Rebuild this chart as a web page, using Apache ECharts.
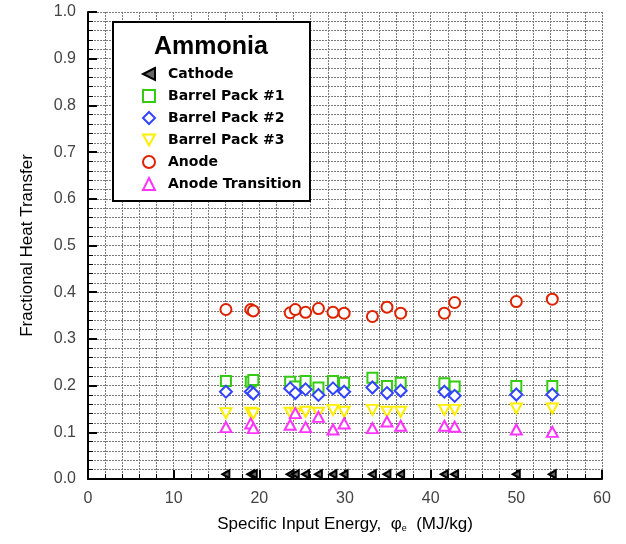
<!DOCTYPE html>
<html>
<head>
<meta charset="utf-8">
<script src="https://cdn.jsdelivr.net/npm/echarts@6/dist/echarts.min.js"></script>
<style>html,body{margin:0;padding:0;background:#fff}#c{width:626px;height:544px}</style>
</head>
<body>
<div id="c"></div>
<script>
var energy = [16.1, 19.0, 19.3, 23.6, 24.2, 25.4, 26.9, 28.6, 29.9, 33.2, 34.9, 36.5, 41.6, 42.8, 50.0, 54.2];
var cathode = [0.01, 0.01, 0.01, 0.01, 0.01, 0.01, 0.01, 0.01, 0.01, 0.01, 0.01, 0.01, 0.01, 0.01, 0.01, 0.01];
var barrel1 = [0.210, 0.208, 0.212, 0.208, 0.198, 0.210, 0.196, 0.210, 0.206, 0.217, 0.199, 0.206, 0.205, 0.198, 0.199, 0.199];
var barrel2 = [0.187, 0.187, 0.183, 0.194, 0.184, 0.192, 0.180, 0.194, 0.187, 0.196, 0.184, 0.189, 0.187, 0.178, 0.181, 0.181];
var barrel3 = [0.141, 0.142, 0.140, 0.142, 0.140, 0.144, 0.142, 0.148, 0.144, 0.148, 0.144, 0.144, 0.148, 0.148, 0.151, 0.151];
var anode = [0.363, 0.363, 0.360, 0.356, 0.363, 0.357, 0.365, 0.357, 0.355, 0.348, 0.368, 0.355, 0.355, 0.378, 0.380, 0.385];
var anodeTrans = [0.111, 0.119, 0.109, 0.116, 0.141, 0.111, 0.133, 0.106, 0.119, 0.109, 0.123, 0.114, 0.114, 0.112, 0.106, 0.101];
var xTicks = [0, 10, 20, 30, 40, 50, 60];
var yTicks = [0.0, 0.1, 0.2, 0.3, 0.4, 0.5, 0.6, 0.7, 0.8, 0.9, 1.0];

function pairs(ys){ return energy.map(function(x,i){ return [x, ys[i]]; }); }

var FONT = '"Liberation Sans", Arial, sans-serif';
var LFONT = '"DejaVu Sans", "Liberation Sans", Arial, sans-serif';
var chart = echarts.init(document.getElementById('c'), null, {renderer:'canvas'});

function mk(name, data, symbol, size, color, fill){
  return {
    name: name, type: 'scatter', data: pairs(data),
    symbol: symbol, symbolSize: size,
    itemStyle: { color: fill || '#fff', borderColor: color, borderWidth: 2, opacity: 1 },
    z: 3
  };
}

var gridLine = { show: true, lineStyle: { color: '#7a7a7a', type: [2, 1], width: 1 } };

chart.setOption({
  animation: false,
  backgroundColor: '#fff',
  grid: { left: 88, right: 24, top: 12, bottom: 65, containLabel: false },
  xAxis: {
    type: 'value', min: xTicks[0], max: xTicks[xTicks.length-1], interval: 10,
    axisLine: { show: true, onZero: false, lineStyle: { color: '#000', width: 2 } },
    axisTick: { show: true, inside: true, length: 9, lineStyle: { color: '#000', width: 2 } },
    minorTick: { show: true, splitNumber: 5, length: 5, lineStyle: { color: '#000', width: 1 } },
    splitLine: gridLine,
    minorSplitLine: gridLine,
    axisLabel: { color: '#444', fontFamily: FONT, fontSize: 16, margin: 12 },
    name: 'Specific Input Energy,  {phi|φ}{sub|e}  (MJ/kg)',
    nameLocation: 'middle', nameGap: 37,
    nameTextStyle: {
      color: '#000', fontFamily: FONT, fontSize: 17,
      rich: {
        phi: { fontFamily: FONT, fontSize: 17, color: '#000' },
        sub: { fontFamily: FONT, fontSize: 9, color: '#000', verticalAlign: 'bottom', padding: [8, 0, 0, 0] }
      }
    }
  },
  yAxis: {
    type: 'value', min: 0, max: 1, interval: 0.1,
    axisLine: { show: true, onZero: false, lineStyle: { color: '#000', width: 2 } },
    axisTick: { show: true, inside: true, length: 9, lineStyle: { color: '#000', width: 2 } },
    minorTick: { show: true, splitNumber: 5, length: 5, lineStyle: { color: '#000', width: 1 } },
    splitLine: gridLine,
    minorSplitLine: gridLine,
    axisLabel: { color: '#444', fontFamily: FONT, fontSize: 16, margin: 12,
      formatter: function(v){ return v.toFixed(1); } },
    name: 'Fractional Heat Transfer', nameLocation: 'middle', nameGap: 52, nameRotate: 90,
    nameTextStyle: { color: '#000', fontFamily: FONT, fontSize: 17 }
  },
  legend: {
    orient: 'vertical', left: 137, top: 62, itemGap: 8, itemWidth: 12, itemHeight: 12,
    z: 10,
    textStyle: { color: '#000', fontFamily: LFONT, fontSize: 14, fontWeight: 'bold', padding: [0,0,0,8] },
    data: ['Cathode', 'Barrel Pack #1', 'Barrel Pack #2', 'Barrel Pack #3', 'Anode', 'Anode Transition']
  },
  graphic: [
    { type: 'rect', z: 8, shape: { x: 113, y: 22, width: 197, height: 179 },
      style: { fill: '#fff', stroke: '#000', lineWidth: 2 } },
    { type: 'text', z: 9, x: 211, y: 47, style: { text: 'Ammonia', align: 'center', verticalAlign: 'middle',
      font: 'bold 25px "Liberation Sans", Arial, sans-serif', fill: '#000' } }
  ],
  series: [
    mk('Cathode', cathode, 'path://M10,0 L0,5 L10,10 Z', [7, 8], '#000', '#666'),
    mk('Barrel Pack #1', barrel1, 'rect', 10, '#33cc11'),
    mk('Barrel Pack #2', barrel2, 'diamond', 12, '#3344ff'),
    mk('Barrel Pack #3', barrel3, 'path://M0,0 L10,0 L5,9 Z', [11, 10], '#ffee00'),
    mk('Anode', anode, 'circle', 11, '#dd2200'),
    mk('Anode Transition', anodeTrans, 'triangle', [11, 10], '#ff33ff')
  ]
});
</script>
</body>
</html>
